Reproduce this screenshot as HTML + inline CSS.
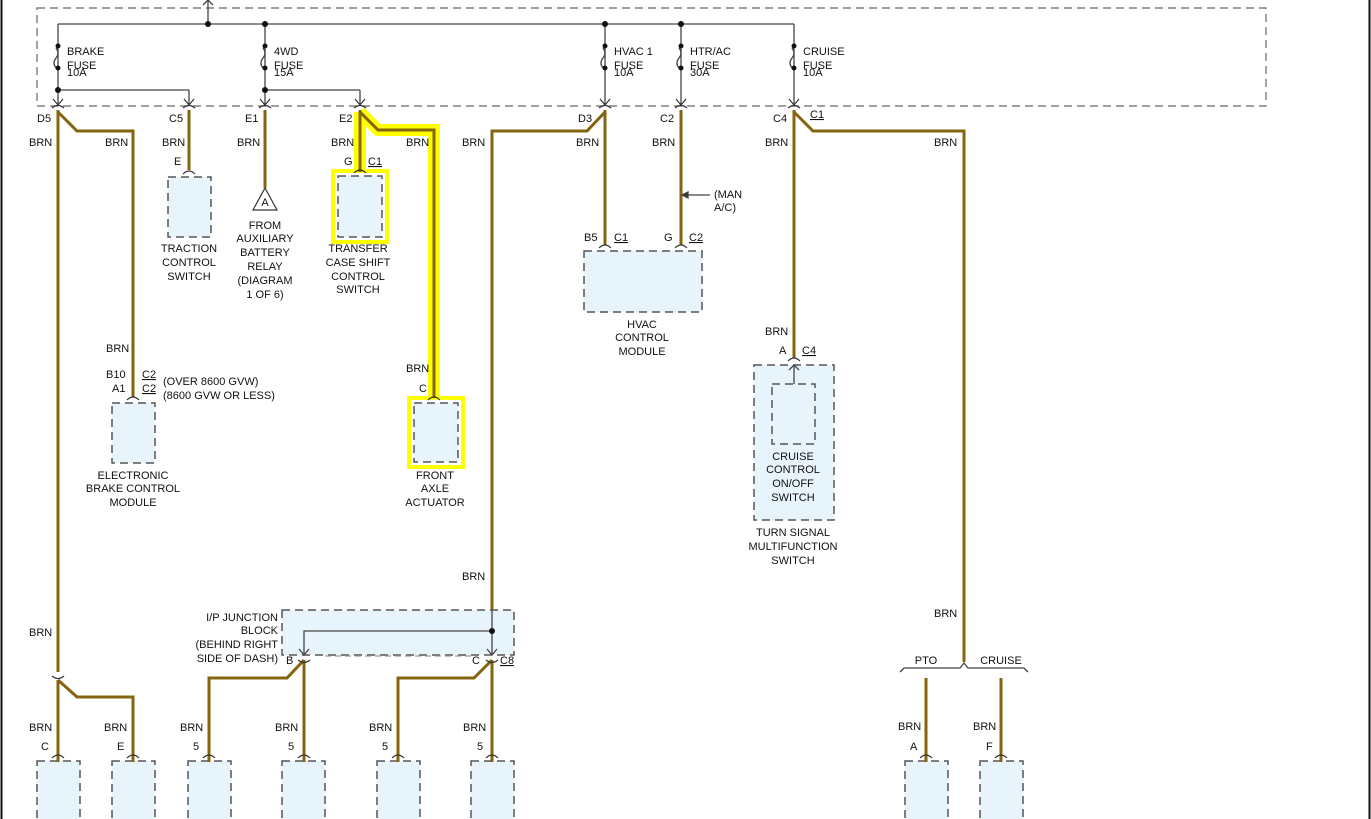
<!DOCTYPE html>
<html><head><meta charset="utf-8"><style>
html,body{margin:0;padding:0;background:#fff}
svg{display:block}
text{font-family:"Liberation Sans",sans-serif;font-size:11px;fill:#111}
.w{stroke:#84640f;stroke-width:3;fill:none}
.t{stroke:#444;stroke-width:1.3;fill:none}
.d{stroke:#555;stroke-width:1.5;stroke-dasharray:8,5;fill:#e8f4fc}
.dn{stroke:#666;stroke-width:1.2;stroke-dasharray:8,5;fill:none}
.c{stroke:#333;stroke-width:1.2;fill:none}
.m{text-anchor:middle}
.e{text-anchor:end}
.u{text-decoration:underline}
</style></head><body>
<svg width="1371" height="819" viewBox="0 0 1371 819" xmlns="http://www.w3.org/2000/svg">
<line x1="1.5" y1="0" x2="1.5" y2="819" stroke="#111" stroke-width="2"/>
<line x1="1369.5" y1="0" x2="1369.5" y2="819" stroke="#111" stroke-width="2"/>
<rect x="37" y="8" width="1229" height="98" class="dn"/>
<g class="t">
<line x1="208" y1="0" x2="208" y2="24"/><path d="M203,5 L208,0 L213,5"/>
<line x1="58" y1="24" x2="794" y2="24"/>
<line x1="58" y1="24" x2="58" y2="104"/><line x1="265" y1="24" x2="265" y2="104"/>
<line x1="605" y1="24" x2="605" y2="104"/><line x1="681" y1="24" x2="681" y2="104"/><line x1="794" y1="24" x2="794" y2="104"/>
<line x1="58" y1="90" x2="189" y2="90"/><line x1="189" y1="90" x2="189" y2="104"/>
<line x1="265" y1="90" x2="360" y2="90"/><line x1="360" y1="90" x2="360" y2="104"/>
</g>
<g fill="#fff" stroke="#444" stroke-width="1.3">
<path d="M56,48 q4,5 0,10 q-4,5 0,10" /><path d="M263,48 q4,5 0,10 q-4,5 0,10"/>
<path d="M603,48 q4,5 0,10 q-4,5 0,10"/><path d="M679,48 q4,5 0,10 q-4,5 0,10"/><path d="M792,48 q4,5 0,10 q-4,5 0,10"/>
</g>
<g fill="#111">
<circle cx="208" cy="24" r="3"/><circle cx="265" cy="24" r="3"/><circle cx="605" cy="24" r="3"/><circle cx="681" cy="24" r="3"/>
<circle cx="58" cy="90" r="3"/><circle cx="265" cy="90" r="3"/>
<circle cx="58" cy="46" r="2.5"/><circle cx="58" cy="68" r="2.5"/>
<circle cx="265" cy="46" r="2.5"/><circle cx="265" cy="68" r="2.5"/>
<circle cx="605" cy="46" r="2.5"/><circle cx="605" cy="68" r="2.5"/>
<circle cx="681" cy="46" r="2.5"/><circle cx="681" cy="68" r="2.5"/>
<circle cx="794" cy="46" r="2.5"/><circle cx="794" cy="68" r="2.5"/>
</g>
<g class="c">
<path d="M53,99 L58,105 L63,99"/><path d="M52,108 q6,-5 12,0"/>
<path d="M184,99 L189,105 L194,99"/><path d="M183,108 q6,-5 12,0"/>
<path d="M260,99 L265,105 L270,99"/><path d="M259,108 q6,-5 12,0"/>
<path d="M355,99 L360,105 L365,99"/><path d="M354,108 q6,-5 12,0"/>
<path d="M600,99 L605,105 L610,99"/><path d="M599,108 q6,-5 12,0"/>
<path d="M676,99 L681,105 L686,99"/><path d="M675,108 q6,-5 12,0"/>
<path d="M789,99 L794,105 L799,99"/><path d="M788,108 q6,-5 12,0"/>
</g>
<text x="67" y="55">BRAKE</text><text x="67" y="69">FUSE</text><text x="67" y="76">10A</text>
<text x="274" y="55">4WD</text><text x="274" y="69">FUSE</text><text x="274" y="76">15A</text>
<text x="614" y="55">HVAC 1</text><text x="614" y="69">FUSE</text><text x="614" y="76">10A</text>
<text x="690" y="55">HTR/AC</text><text x="690" y="69">FUSE</text><text x="690" y="76">30A</text>
<text x="803" y="55">CRUISE</text><text x="803" y="69">FUSE</text><text x="803" y="76">10A</text>
<g stroke="#ffff00" fill="none" stroke-width="12" stroke-linejoin="miter">
<path d="M360,112 L360,172"/><path d="M360,112 L378,130 L434,130 L434,400"/>
</g>
<rect x="333" y="171" width="54" height="71" fill="none" stroke="#ffff00" stroke-width="4"/>
<rect x="409" y="398" width="54" height="69" fill="none" stroke="#ffff00" stroke-width="4"/>
<rect x="168" y="177" width="43" height="60" class="d"/>
<rect x="338" y="176" width="44" height="61" class="d" fill="#e0f0d8"/>
<rect x="344" y="182" width="32" height="49" fill="#e8f4fc"/>
<rect x="414" y="403" width="44" height="59" class="d"/>
<rect x="112" y="403" width="43" height="60" class="d"/>
<rect x="584" y="251" width="118" height="61" class="d"/>
<rect x="754" y="365" width="80" height="155" class="d"/>
<rect x="772" y="384" width="43" height="60" class="d" fill="#e2f0fa"/>
<rect x="282" y="610" width="232" height="45" class="d"/>
<g class="d">
<rect x="37" y="761" width="43" height="70"/><rect x="112" y="761" width="43" height="70"/>
<rect x="188" y="761" width="43" height="70"/><rect x="282" y="761" width="43" height="70"/>
<rect x="377" y="761" width="43" height="70"/><rect x="471" y="761" width="43" height="70"/>
<rect x="905" y="761" width="43" height="70"/><rect x="980" y="761" width="43" height="70"/>
</g>
<path d="M265,188 L277,210 L253,210 Z" fill="#fff" stroke="#333" stroke-width="1.2"/>
<text x="265" y="206" class="m" font-size="10">A</text>
<g class="w">
<path d="M58,110 L58,672"/><path d="M58,112 L77,131 L133,131 L133,397"/>
<path d="M58,680 L58,762"/><path d="M58,680 L77,697 L133,697 L133,762"/>
<path d="M189,110 L189,170"/>
<path d="M265,110 L265,188"/>
<path d="M360,110 L360,172"/><path d="M360,112 L378,130 L434,130 L434,398"/>
<path d="M605,110 L605,245"/><path d="M605,112 L587,131 L492,131 L492,610"/>
<path d="M681,110 L681,245"/>
<path d="M794,110 L794,358"/><path d="M794,112 L813,131 L964,131 L964,662"/>
<path d="M304,660 L304,762"/><path d="M304,660 L287,678 L209,678 L209,762"/>
<path d="M492,660 L492,762"/><path d="M492,660 L474,678 L398,678 L398,762"/>
<path d="M926,678 L926,762"/><path d="M1001,678 L1001,762"/>
</g>
<g class="t">
<line x1="492" y1="610" x2="492" y2="655"/>
<path d="M492,631 L304,631 L304,655"/>
<path d="M299,649 L304,655 L309,649"/><path d="M487,649 L492,655 L497,649"/>
<line x1="325" y1="656" x2="471" y2="656" stroke="#999" stroke-dasharray="6,4"/>
<path d="M900,672 l4,-4 L960,668 l4,-5 l4,5 L1024,668 l4,4"/>
<line x1="682" y1="195" x2="710" y2="195"/><path d="M688,192 L682,195 L688,198 Z" fill="#333"/>
<line x1="794" y1="365" x2="794" y2="384"/><path d="M789,370 L794,365 L799,370"/>
</g>
<circle cx="492" cy="631" r="3" fill="#111"/>
<g class="c">
<path d="M183,174 q6,-6 12,0"/><path d="M354,173 q6,-6 12,0"/><path d="M428,400 q6,-6 12,0"/>
<path d="M127,400 q6,-6 12,0"/><path d="M599,248 q6,-6 12,0"/><path d="M675,248 q6,-6 12,0"/>
<path d="M788,361 q6,-6 12,0"/>
<path d="M298,660 q6,5 12,0"/><path d="M486,660 q6,5 12,0"/>
<path d="M52,676 q6,5 12,0"/>
<path d="M52,758 q6,-6 12,0"/><path d="M127,758 q6,-6 12,0"/><path d="M203,758 q6,-6 12,0"/>
<path d="M298,758 q6,-6 12,0"/><path d="M392,758 q6,-6 12,0"/><path d="M486,758 q6,-6 12,0"/>
<path d="M920,758 q6,-6 12,0"/><path d="M995,758 q6,-6 12,0"/>
</g>
<text x="37" y="122">D5</text><text x="169" y="122">C5</text><text x="245" y="122">E1</text><text x="339" y="122">E2</text>
<text x="578" y="122">D3</text><text x="660" y="122">C2</text><text x="773" y="122">C4</text><text x="810" y="118" class="u">C1</text>
<g>
<text x="29" y="146">BRN</text><text x="105" y="146">BRN</text><text x="162" y="146">BRN</text><text x="237" y="146">BRN</text>
<text x="331" y="146">BRN</text><text x="406" y="146">BRN</text><text x="462" y="146">BRN</text><text x="576" y="146">BRN</text>
<text x="652" y="146">BRN</text><text x="765" y="146">BRN</text><text x="934" y="146">BRN</text>
<text x="106" y="352">BRN</text><text x="406" y="372">BRN</text><text x="765" y="335">BRN</text>
<text x="462" y="580">BRN</text><text x="29" y="636">BRN</text><text x="934" y="617">BRN</text>
<text x="29" y="731">BRN</text><text x="104" y="731">BRN</text><text x="180" y="731">BRN</text><text x="275" y="731">BRN</text>
<text x="369" y="731">BRN</text><text x="463" y="731">BRN</text><text x="898" y="730">BRN</text><text x="973" y="730">BRN</text>
</g>
<text x="174" y="165">E</text>
<text x="344" y="165">G</text><text x="368" y="165" class="u">C1</text>
<text x="419" y="392">C</text>
<text x="106" y="378">B10</text><text x="142" y="378" class="u">C2</text>
<text x="112" y="392">A1</text><text x="142" y="392" class="u">C2</text>
<text x="163" y="385">(OVER 8600 GVW)</text><text x="163" y="399">(8600 GVW OR LESS)</text>
<text x="584" y="241">B5</text><text x="614" y="241" class="u">C1</text>
<text x="664" y="241">G</text><text x="689" y="241" class="u">C2</text>
<text x="714" y="198">(MAN</text><text x="714" y="211">A/C)</text>
<text x="779" y="354">A</text><text x="802" y="354" class="u">C4</text>
<text x="41" y="750">C</text><text x="117" y="750">E</text>
<text x="193" y="750">5</text><text x="288" y="750">5</text><text x="382" y="750">5</text><text x="477" y="750">5</text>
<text x="910" y="750">A</text><text x="986" y="750">F</text>
<text x="926" y="664" class="m">PTO</text><text x="1001" y="664" class="m">CRUISE</text>
<text x="286" y="664">B</text><text x="472" y="664">C</text><text x="500" y="664" class="u">C8</text>
<g class="m">
<text x="189" y="252">TRACTION</text><text x="189" y="266">CONTROL</text><text x="189" y="280">SWITCH</text>
<text x="265" y="229">FROM</text><text x="265" y="242">AUXILIARY</text><text x="265" y="256">BATTERY</text><text x="265" y="270">RELAY</text><text x="265" y="284">(DIAGRAM</text><text x="265" y="298">1 OF 6)</text>
<text x="358" y="252">TRANSFER</text><text x="358" y="266">CASE SHIFT</text><text x="358" y="280">CONTROL</text><text x="358" y="293">SWITCH</text>
<text x="435" y="479">FRONT</text><text x="435" y="492">AXLE</text><text x="435" y="506">ACTUATOR</text>
<text x="133" y="479">ELECTRONIC</text><text x="133" y="492">BRAKE CONTROL</text><text x="133" y="506">MODULE</text>
<text x="642" y="328">HVAC</text><text x="642" y="341">CONTROL</text><text x="642" y="355">MODULE</text>
<text x="793" y="460">CRUISE</text><text x="793" y="473">CONTROL</text><text x="793" y="487">ON/OFF</text><text x="793" y="501">SWITCH</text>
<text x="793" y="536">TURN SIGNAL</text><text x="793" y="550">MULTIFUNCTION</text><text x="793" y="564">SWITCH</text>
</g>
<g class="e">
<text x="278" y="621">I/P JUNCTION</text><text x="278" y="634">BLOCK</text><text x="278" y="648">(BEHIND RIGHT</text><text x="278" y="662">SIDE OF DASH)</text>
</g>
</svg>
</body></html>
